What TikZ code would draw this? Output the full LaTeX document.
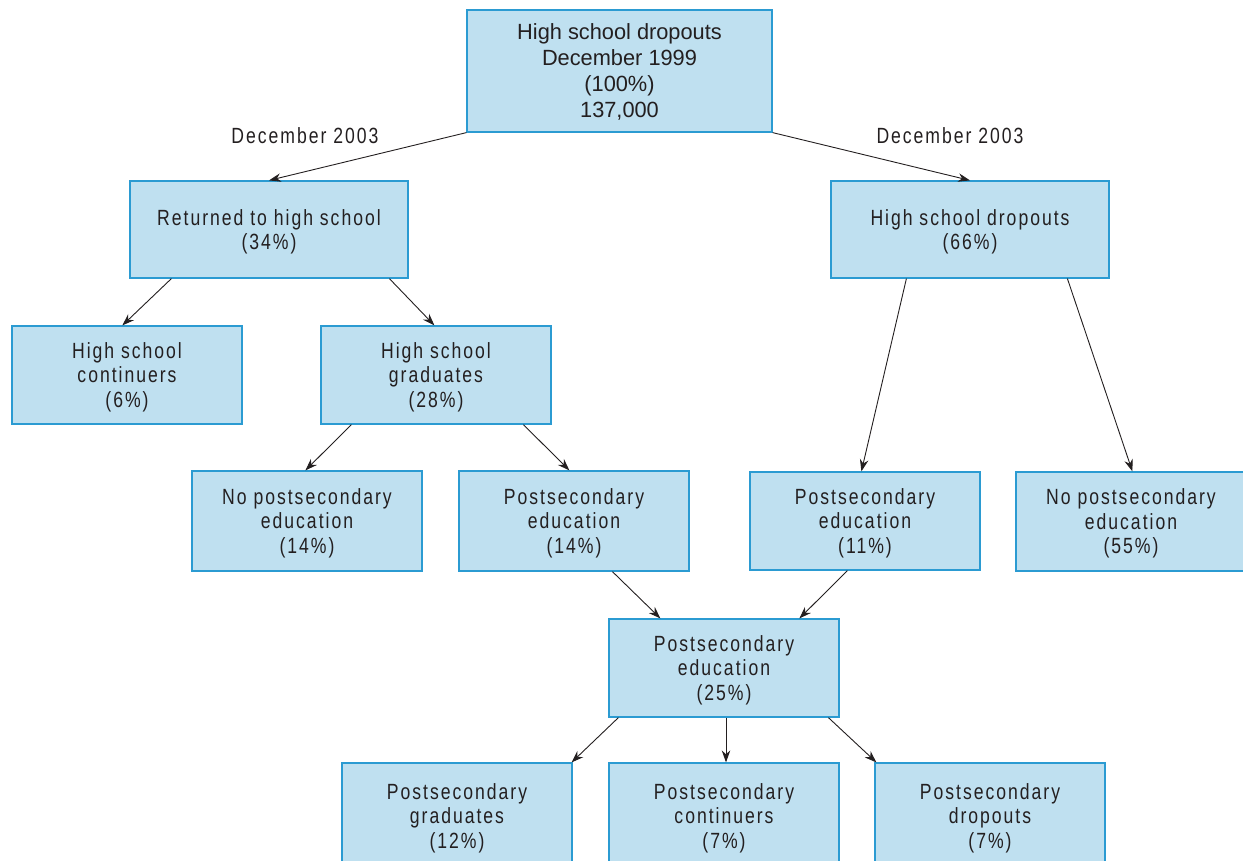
\documentclass[tikz,border=0pt]{standalone}
\usepackage{fontspec}
\setmainfont{Liberation Sans}
\newfontfamily\topfont{Liberation Sans}[FakeStretch=0.99]
\newfontfamily\lowfont{Liberation Sans}[FakeStretch=0.8,LetterSpace=9]
\usetikzlibrary{arrows.meta}
\definecolor{boxfill}{HTML}{BFE0F0}
\definecolor{boxline}{HTML}{2B9BD2}
\definecolor{ink}{HTML}{231F20}
\tikzset{
  box/.style={draw=boxline, fill=boxfill, line width=1.2pt, inner sep=0pt, align=center, text=ink,
    font=\lowfont\fontsize{22}{24.5}\selectfont, text depth=-1pt},
  topbox/.style={box, font=\topfont\fontsize{22}{26}\selectfont, text depth=0pt},
  conn/.style={draw=ink, line width=0.9pt, -{Stealth[length=12pt,width=8.5pt]}},
  lbl/.style={text=ink, font=\lowfont\fontsize{22}{24}\selectfont, inner sep=0pt}
}
\begin{document}
\begin{tikzpicture}[x=1pt,y=-1pt]
\useasboundingbox (0,0) rectangle (1243,860);
\clip (0,0) rectangle (1243,860);
\node[topbox, minimum width=305, minimum height=122] (top) at (619.5,71) {High school dropouts\\December 1999\\(100\%)\\137,000};
\node[box, minimum width=278, minimum height=97] (ret) at (269,229.5) {Returned to high school\\(34\%)};
\node[box, minimum width=278, minimum height=97] (hsd) at (970,229.5) {High school dropouts\\(66\%)};
\node[box, minimum width=230, minimum height=98] (cont) at (127,375) {High school\\continuers\\(6\%)};
\node[box, minimum width=230, minimum height=98] (grad) at (436,375) {High school\\graduates\\(28\%)};
\node[box, minimum width=230, minimum height=100] (nps14) at (307,521) {No postsecondary\\education\\(14\%)};
\node[box, minimum width=230, minimum height=100] (ps14) at (574,521) {Postsecondary\\education\\(14\%)};
\node[box, minimum width=230, minimum height=98] (ps11) at (865,521) {Postsecondary\\education\\(11\%)};
\node[box, minimum width=230, minimum height=99] (nps55) at (1131,521.5) {No postsecondary\\education\\(55\%)};
\node[box, minimum width=230, minimum height=98] (ps25) at (724,668) {Postsecondary\\education\\(25\%)};
\node[box, minimum width=230, minimum height=106] (bg) at (457,816) {Postsecondary\\graduates\\(12\%)};
\node[box, minimum width=230, minimum height=106] (bc) at (724,816) {Postsecondary\\continuers\\(7\%)};
\node[box, minimum width=230, minimum height=106] (bd) at (990,816) {Postsecondary\\dropouts\\(7\%)};
\node[lbl] (l1) at (305,136) {December 2003};
\node[lbl] (l2) at (950,136) {December 2003};
\draw[conn] (top.south west) -- (ret.north);
\draw[conn] (top.south east) -- (hsd.north);
\draw[conn] ([xshift=42]ret.south west) -- ([xshift=111]cont.north west);
\draw[conn] ([xshift=260]ret.south west) -- ([xshift=114]grad.north west);
\draw[conn] ([xshift=76]hsd.south west) -- ([xshift=112]ps11.north west);
\draw[conn] ([xshift=237]hsd.south west) -- ([xshift=117]nps55.north west);
\draw[conn] ([xshift=31]grad.south west) -- ([xshift=114]nps14.north west);
\draw[conn] ([xshift=203]grad.south west) -- ([xshift=111]ps14.north west);
\draw[conn] ([xshift=154]ps14.south west) -- ([xshift=52]ps25.north west);
\draw[conn] ([xshift=98]ps11.south west) -- ([xshift=191]ps25.north west);
\draw[conn] ([xshift=10]ps25.south west) -- ([xshift=-1]bg.north east);
\draw[conn] ([xshift=2]ps25.south) -- ([xshift=2]bc.north);
\draw[conn] ([xshift=220]ps25.south west) -- ([xshift=2]bd.north west);
\end{tikzpicture}
\end{document}
